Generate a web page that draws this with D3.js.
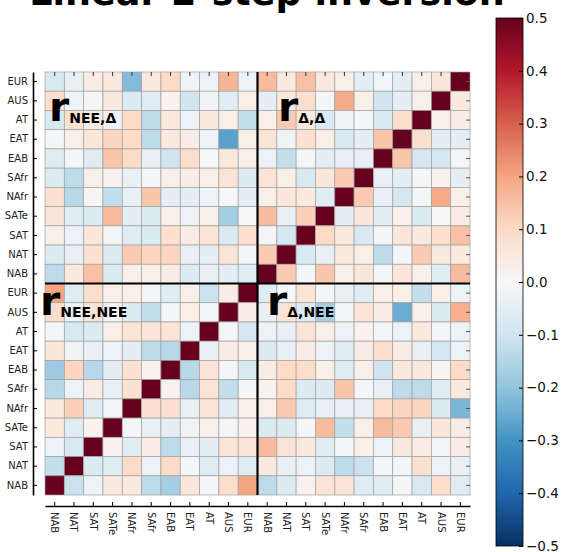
<!DOCTYPE html>
<html>
<head>
<meta charset="utf-8">
<script src="https://cdn.jsdelivr.net/npm/d3@7"></script>
<style>
  body { margin: 0; background: #fff; }
  text { font-family: "DejaVu Sans", sans-serif; }
</style>
</head>
<body>
<div class="container"></div>
<script>
// region order as used on the y axis (top -> bottom)
const regions = ["EUR", "AUS", "AT", "EAT", "EAB", "SAfr", "NAfr", "SATe", "SAT", "NAT", "NAB"];
const rowLabels = regions.concat(regions);
const colLabels = regions.slice().reverse().concat(regions.slice().reverse());

// blocks: rows EUR..NAB, columns NAB..EUR
const rNeeDelta = [
  [-0.08, -0.04, 0.04, 0.05, -0.22, 0.05, 0.10, -0.02, -0.03, 0.17, -0.03],
  [0.09, -0.02, -0.01, 0.05, -0.07, -0.06, 0.02, -0.10, -0.02, -0.06, 0.03],
  [-0.08, 0.08, 0.04, -0.03, 0.10, -0.13, 0.05, -0.03, 0.05, 0.03, -0.12],
  [-0.01, 0.03, 0.06, 0.11, 0.10, -0.13, 0.05, 0.04, -0.03, -0.27, 0.03],
  [-0.06, -0.01, -0.06, 0.14, 0.10, -0.04, -0.10, 0.09, 0.00, 0.05, 0.03],
  [-0.07, -0.13, 0.03, 0.02, -0.04, -0.01, 0.03, 0.04, 0.03, 0.07, -0.07],
  [0.08, -0.14, 0.01, -0.12, -0.04, 0.14, -0.05, -0.05, -0.03, 0.00, -0.05],
  [0.07, -0.06, -0.07, 0.16, -0.05, -0.07, 0.03, -0.03, 0.03, -0.17, 0.00],
  [0.03, -0.03, 0.06, -0.01, -0.06, -0.07, 0.08, 0.04, 0.07, -0.07, 0.08],
  [-0.07, -0.04, 0.08, -0.07, 0.13, 0.11, 0.11, -0.04, -0.05, 0.07, -0.01],
  [-0.13, 0.05, 0.15, -0.07, 0.03, 0.03, 0.04, -0.07, -0.04, -0.05, -0.06]
];
const rDeltaDelta = [
  [0.16, 0.05, 0.15, 0.05, 0.03, -0.05, -0.01, -0.05, 0.03, 0.06, 1],
  [-0.05, 0.05, 0.09, -0.01, 0.19, 0.03, -0.10, -0.05, 0.03, 1, 0.05],
  [0.03, 0.13, 0.05, -0.07, -0.02, -0.01, -0.08, 0.09, 1, 0.03, 0.04],
  [0.07, -0.02, 0.08, 0.03, -0.08, -0.05, 0.14, 1, 0.08, -0.05, -0.05],
  [-0.03, -0.12, -0.01, -0.05, -0.04, -0.04, 1, 0.14, -0.09, -0.09, -0.01],
  [0.07, 0.03, -0.08, 0.06, 0.13, 1, -0.04, -0.05, -0.01, 0.02, -0.05],
  [0.03, 0.06, 0.05, -0.06, 1, 0.13, -0.04, -0.09, -0.01, 0.19, 0.03],
  [0.16, -0.04, 0.12, 1, -0.05, 0.06, -0.05, 0.02, -0.07, 0.00, 0.04],
  [-0.01, -0.09, 1, 0.10, 0.05, -0.08, -0.01, 0.06, 0.05, 0.08, 0.15],
  [0.13, 1, -0.08, -0.04, 0.05, 0.03, -0.13, -0.01, 0.13, 0.05, 0.05],
  [1, 0.13, -0.01, 0.14, 0.03, 0.06, -0.01, 0.06, 0.03, -0.06, 0.16]
];
const rNeeNee = [
  [0.20, -0.06, 0.09, 0.03, 0.03, -0.01, -0.06, 0.03, -0.11, 0.04, 1],
  [0.09, -0.03, 0.07, -0.01, -0.07, -0.12, -0.01, 0.03, -0.01, 1, 0.04],
  [-0.01, -0.08, -0.07, 0.03, 0.07, 0.06, 0.07, -0.03, 1, -0.01, -0.09],
  [0.06, -0.02, -0.04, -0.03, -0.05, -0.13, -0.14, 1, -0.04, 0.04, 0.03],
  [-0.18, 0.11, -0.14, -0.05, 0.08, 0.02, 1, -0.14, 0.07, -0.01, -0.08],
  [-0.14, -0.03, 0.04, -0.04, 0.08, 1, 0.02, -0.14, 0.07, -0.12, -0.01],
  [0.05, 0.12, -0.06, -0.01, 1, 0.08, 0.08, -0.04, 0.07, -0.06, 0.03],
  [0.05, -0.06, 0.02, 1, -0.01, -0.04, -0.05, -0.02, 0.03, -0.01, 0.02],
  [-0.03, -0.08, 1, 0.02, -0.06, 0.04, -0.13, -0.04, -0.05, 0.07, 0.07],
  [-0.12, 1, -0.07, -0.06, 0.10, -0.03, 0.10, -0.01, -0.06, -0.03, -0.06],
  [1, -0.11, -0.03, 0.05, 0.05, -0.13, -0.17, 0.06, -0.01, 0.09, 0.20]
];
const rDeltaNee = [
  [-0.06, -0.01, 0.07, -0.01, -0.04, -0.06, 0.03, 0.03, -0.12, 0.03, -0.03],
  [-0.04, 0.07, -0.07, -0.17, -0.01, 0.07, 0.04, -0.25, 0.03, -0.07, 0.18],
  [-0.03, -0.04, 0.07, 0.03, -0.03, 0.02, -0.01, -0.03, 0.05, -0.01, -0.03],
  [-0.07, -0.04, 0.04, -0.03, -0.06, 0.04, 0.09, 0.04, -0.04, -0.09, -0.03],
  [0.04, 0.10, 0.09, 0.03, -0.06, 0.03, -0.10, 0.05, 0.05, 0.01, 0.10],
  [0.02, 0.10, -0.07, -0.07, 0.14, -0.01, -0.04, -0.13, -0.13, -0.06, 0.05],
  [0.03, 0.13, -0.06, -0.04, -0.04, -0.04, 0.10, 0.11, 0.11, -0.07, -0.23],
  [-0.07, -0.07, -0.01, 0.16, -0.12, 0.03, 0.16, 0.13, -0.04, 0.06, 0.04],
  [0.16, 0.07, 0.05, -0.06, -0.01, 0.03, -0.03, 0.05, 0.04, -0.01, 0.04],
  [0.05, -0.04, -0.03, -0.07, -0.13, -0.11, -0.01, -0.01, 0.08, -0.03, -0.04],
  [-0.13, -0.07, 0.02, 0.07, 0.07, -0.06, -0.06, -0.01, -0.08, 0.09, -0.06]
];

const cbarTicks = [-0.5, -0.4, -0.3, -0.2, -0.1, 0, 0.1, 0.2, 0.3, 0.4, 0.5];
// matplotlib RdBu_r
const rdbu = ["#053061", "#2166ac", "#4393c3", "#92c5de", "#d1e5f0", "#f7f7f7",
              "#fddbc7", "#f4a582", "#d6604d", "#b2182b", "#67001f"];

// 22x22 matrix from the four blocks
const matrix = rNeeDelta.map((r, i) => r.concat(rDeltaDelta[i]))
  .concat(rNeeNee.map((r, i) => r.concat(rDeltaNee[i])));

const cells = [];
matrix.forEach((row, i) => row.forEach((v, j) => cells.push({ i, j, v })));

const width = 561, height = 552;
const svg = d3.select(".container").append("svg")
  .attr("width", width)
  .attr("height", height);

const x = d3.scaleBand().domain(d3.range(22)).range([45, 470]);
const y = d3.scaleBand().domain(d3.range(22)).range([72, 495]);
const color = d3.scaleLinear().domain(cbarTicks).range(rdbu).clamp(true);

svg.append("g")
  .selectAll("rect")
  .data(cells)
  .enter()
  .append("rect")
  .attr("x", d => x(d.j))
  .attr("y", d => y(d.i))
  .attr("width", x.bandwidth())
  .attr("height", y.bandwidth())
  .attr("fill", d => color(d.v))
  .attr("stroke", "#a0a0a0")
  .attr("stroke-width", 0.7);

// block dividers
svg.append("line")
  .attr("x1", x(11)).attr("x2", x(11))
  .attr("y1", y(0)).attr("y2", y(21) + y.bandwidth())
  .attr("stroke", "#000").attr("stroke-width", 2.2);
svg.append("line")
  .attr("x1", x(0)).attr("x2", x(21) + x.bandwidth())
  .attr("y1", y(11)).attr("y2", y(11))
  .attr("stroke", "#000").attr("stroke-width", 2.2);

// axes
const yAxis = svg.append("g")
  .attr("transform", "translate(33,0)")
  .call(d3.axisLeft(y).tickSizeInner(-4).tickSizeOuter(0).tickPadding(5)
    .tickFormat(i => rowLabels[i]));
yAxis.selectAll("text").attr("font-size", 10).attr("fill", "#222")
  .attr("font-family", "DejaVu Sans");
yAxis.select(".domain").attr("stroke-width", 1.6);

const xAxis = svg.append("g")
  .attr("transform", "translate(0,506)")
  .call(d3.axisBottom(x).tickSizeInner(-4).tickSizeOuter(0)
    .tickFormat(j => colLabels[j]));
xAxis.selectAll("text")
  .attr("font-size", 10).attr("fill", "#222").attr("font-family", "DejaVu Sans")
  .attr("transform", "rotate(90)")
  .attr("x", 6).attr("y", 0).attr("dy", "0.35em")
  .attr("text-anchor", "start");
xAxis.select(".domain").attr("stroke-width", 1.6);

// inner ticks on top and right edges
const topTicks = svg.append("g")
  .attr("transform", `translate(0,${y(0)})`)
  .call(d3.axisTop(x).tickSizeInner(-4).tickSizeOuter(0).tickFormat(""));
topTicks.select(".domain").remove();
topTicks.selectAll("line").attr("stroke", "#333");
const rightTicks = svg.append("g")
  .attr("transform", `translate(${x(21) + x.bandwidth()},0)`)
  .call(d3.axisRight(y).tickSizeInner(-4).tickSizeOuter(0).tickFormat(""));
rightTicks.select(".domain").remove();
rightTicks.selectAll("line").attr("stroke", "#555");

// block labels
function blockLabel(px, py, sub) {
  const t = svg.append("text")
    .attr("x", px).attr("y", py)
    .attr("font-weight", "bold").attr("fill", "#000");
  t.append("tspan").attr("font-size", 41).text("r");
  t.append("tspan").attr("font-size", 14).attr("dy", 2).text(sub);
}
blockLabel(49, 121, "NEE,Δ");
blockLabel(278, 121, "Δ,Δ");
blockLabel(40, 315, "NEE,NEE");
blockLabel(267, 315, "Δ,NEE");

// title (mostly cut off at top, as in the original)
svg.append("text")
  .attr("x", 267).attr("y", 5)
  .attr("text-anchor", "middle")
  .attr("font-size", 36.5).attr("font-weight", "bold")
  .text("Linear 2-step inversion");

// colorbar
const cb = d3.scaleLinear().domain([-0.5, 0.5]).range([546, 18]);
const grad = svg.append("defs").append("linearGradient")
  .attr("id", "cbgrad").attr("x1", 0).attr("y1", 1).attr("x2", 0).attr("y2", 0);
grad.selectAll("stop").data(cbarTicks).enter().append("stop")
  .attr("offset", (d, i) => i / (cbarTicks.length - 1))
  .attr("stop-color", d => color(d));
svg.append("rect")
  .attr("x", 496).attr("y", cb(0.5))
  .attr("width", 27).attr("height", cb(-0.5) - cb(0.5))
  .attr("fill", "url(#cbgrad)")
  .attr("stroke", "#000").attr("stroke-width", 0.8);
const cbAxis = svg.append("g")
  .attr("transform", "translate(523,0)")
  .call(d3.axisRight(cb).tickValues(cbarTicks).tickSizeInner(-4).tickSizeOuter(0)
    .tickPadding(3).tickFormat(d3.format(".1f")));
cbAxis.select(".domain").remove();
cbAxis.selectAll("text").attr("font-size", 13.5).attr("fill", "#111")
  .attr("font-family", "DejaVu Sans");
</script>
</body>
</html>
